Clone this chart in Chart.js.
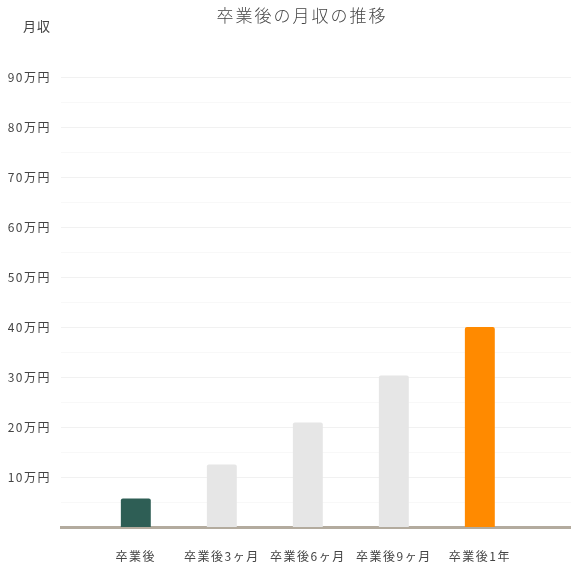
<!DOCTYPE html>
<html>
<head>
<meta charset="utf-8">
<script src="https://cdn.jsdelivr.net/npm/chart.js@4.4.1/dist/chart.umd.min.js"></script>
<style>
  html, body { margin: 0; padding: 0; background: #fff; }
  #canvas { display: block; }
</style>
</head>
<body>
<canvas id="canvas" width="571" height="564"></canvas>
<script>
var labels = ['卒業後', '卒業後3ヶ月', '卒業後6ヶ月', '卒業後9ヶ月', '卒業後1年'];
var values = [5.7, 12.5, 20.9, 30.3, 40];
var barColors = ['#2e5e55', '#e6e6e6', '#e6e6e6', '#e6e6e6', '#ff8a00'];
var yTicks = [10, 20, 30, 40, 50, 60, 70, 80, 90];

var chartTitle = '卒業後の月収の推移';
var axisTitle = '月収';

var font = "'Noto Sans CJK JP', 'Noto Sans', sans-serif";

// letter spacing for tick labels (canvas state is reset on resize)
var spacingPlugin = {
    id: 'spacing',
    beforeLayout: function(chart) { chart.ctx.letterSpacing = '1.5px'; },
    beforeDraw: function(chart) { chart.ctx.letterSpacing = '1.5px'; }
};

// title and y axis caption drawn by hand
var headerPlugin = {
    id: 'header',
    afterDraw: function(chart) {
        var ctx = chart.ctx;
        ctx.save();
        ctx.fillStyle = '#444';
        ctx.textBaseline = 'middle';
        ctx.font = '300 17px ' + font;
        ctx.letterSpacing = '2px';
        ctx.textAlign = 'center';
        ctx.fillText(chartTitle, 302, 16);
        ctx.font = '13px ' + font;
        ctx.letterSpacing = '1px';
        ctx.fillText(axisTitle, 37, 26);
        ctx.restore();
    }
};

var points = values.map(function(v, i) { return { x: i, y: v }; });

var ctx = document.getElementById('canvas').getContext('2d');
window.myBar = new Chart(ctx, {
    type: 'bar',
    data: {
        datasets: [{
            data: points,
            backgroundColor: barColors,
            borderRadius: { topLeft: 2, topRight: 2 },
            borderSkipped: 'bottom',
            barPercentage: 0.6,
            categoryPercentage: 0.58
        }]
    },
    options: {
        responsive: false,
        animation: false,
        layout: { padding: { top: 52, right: 0, bottom: 0, left: 0 } },
        plugins: {
            legend: { display: false },
            tooltip: { enabled: false }
        },
        scales: {
            x: {
                type: 'linear',
                offset: false,
                min: -0.87,
                max: 5.06,
                afterBuildTicks: function(axis) {
                    axis.ticks = labels.map(function(l, i) { return { value: i }; });
                },
                afterFit: function(axis) { axis.height = 37; },
                ticks: {
                    callback: function(v) { return labels[v]; },
                    color: '#444',
                    font: { family: font, size: 12 },
                    padding: 22,
                    maxRotation: 0,
                    autoSkip: false
                },
                grid: { display: false, drawTicks: false },
                border: { display: true, color: '#b3ab9e', width: 3 }
            },
            y: {
                min: 0,
                max: 95,
                afterBuildTicks: function(axis) {
                    var t = [];
                    for (var v = 5; v <= 90; v += 5) t.push({ value: v });
                    axis.ticks = t;
                },
                afterFit: function(axis) { axis.width = 61; },
                ticks: {
                    callback: function(v) { return yTicks.indexOf(v) >= 0 ? v + '万円' : ''; },
                    color: '#444',
                    font: { family: font, size: 12 },
                    padding: 10
                },
                grid: {
                    drawTicks: false,
                    color: function(c) {
                        return yTicks.indexOf(c.tick.value) >= 0 ? '#f1f1f1' : '#f8f8f8';
                    }
                },
                border: { display: false }
            }
        }
    },
    plugins: [spacingPlugin, headerPlugin]
});
</script>
</body>
</html>
